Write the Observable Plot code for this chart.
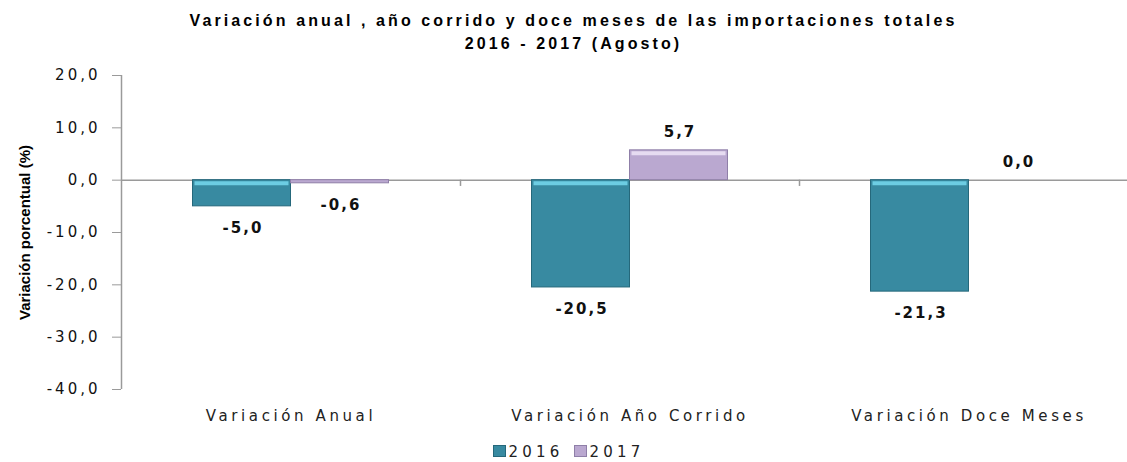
<!DOCTYPE html>
<html>
<head>
<meta charset="utf-8">
<script src="https://cdn.jsdelivr.net/npm/d3@7"></script>
<script src="https://cdn.jsdelivr.net/npm/@observablehq/plot@0.6"></script>
<style>
  body { margin: 0; background: #fff; width: 1127px; height: 462px; overflow: hidden; font-family: "DejaVu Sans", sans-serif; }
  #title { position: absolute; left: 0; top: 9px; width: 1127px; padding-left: 20px; box-sizing: border-box; text-align: center;
    font-family: "Liberation Sans", Arial, sans-serif; font-weight: bold; font-size: 16px; line-height: 23px; letter-spacing: 3.1px; color: #000; }
  #chart { position: absolute; left: 0; top: 60px; }
  #legend { position: absolute; left: 0; top: 443px; width: 1127px; padding-left: 10px; box-sizing: border-box; text-align: center;
    font-family: "DejaVu Sans", sans-serif; font-size: 15px; letter-spacing: 4.2px; color: #222; }
  #legend span.sw { display: inline-block; width: 11px; height: 10px; margin-right: 3px; vertical-align: 0px; }
  #legend span.item { margin: 0 5px; }
  #chart g[aria-label="y-axis tick label"] text { letter-spacing: 3px; }
  #chart g[aria-label="x-axis tick label"] text { letter-spacing: 3.6px; }
</style>
</head>
<body>
<div id="title">Variación anual , año corrido y doce meses de las importaciones totales<br>2016 - 2017 (Agosto)</div>
<div id="chart"></div>
<div id="legend"></div>
<script>
const categories = ["Variación Anual", "Variación Año Corrido", "Variación Doce Meses"];
const series = ["2016", "2017"];
const values2016 = [-5.0, -20.5, -21.3];
const values2017 = [-0.6, 5.7, 0.0];
const yTicks = [20, 10, 0, -10, -20, -30, -40];
const colors = {"2016": "#388aa1", "2017": "#baa8d0"};
const strokes = {"2016": "#25687b", "2017": "#8f7fa8"};
const rims = {"2016": "#6ccde3", "2017": "#e6dbf1"};
const yLabel = "Variación porcentual (%)";

const data = [];
categories.forEach((c, i) => {
  data.push({category: c, year: "2016", value: values2016[i]});
  data.push({category: c, year: "2017", value: values2017[i]});
});

const fmt = v => d3.format(".1f")(v).replace(".", ",").replace("−", "-");

const xRange = [121, 1138];
const bandW = (xRange[1] - xRange[0]) / categories.length;
const barW = 98;
const outer = (bandW - 2 * barW) / 2;

const marks = [];
series.forEach((s, k) => {
  const d = data.filter(r => r.year === s);
  const iL = k === 0 ? outer : outer + barW;
  const iR = k === 0 ? outer + barW : outer;
  marks.push(Plot.barY(d, {
    x: "category", y: "value",
    fill: colors[s], stroke: strokes[s], strokeWidth: 1,
    insetLeft: iL, insetRight: iR
  }));
  marks.push(Plot.tickY(d.filter(r => Math.abs(r.value) > 1), {
    x: "category", y: r => Math.max(0, r.value),
    stroke: rims[s], strokeWidth: 4, dy: 3,
    insetLeft: iL + 2, insetRight: iR + 2
  }));
  marks.push(Plot.text(d.filter(r => r.value < 0), {
    x: "category", y: "value", text: r => fmt(r.value),
    dx: (k === 0 ? -1 : 1) * barW / 2 + 1, dy: 22,
    fontWeight: "bold", fontSize: 15, fill: "#111"
  }));
  marks.push(Plot.text(d.filter(r => r.value >= 0), {
    x: "category", y: "value", text: r => fmt(r.value),
    dx: (k === 0 ? -1 : 1) * barW / 2 + 1, dy: -18,
    fontWeight: "bold", fontSize: 15, fill: "#111"
  }));
});

const plot = Plot.plot({
  width: 1127,
  height: 375,
  marginTop: 15,
  marginBottom: 46,
  marginLeft: 121,
  marginRight: 0,
  style: {fontFamily: "DejaVu Sans, sans-serif", background: "transparent"},
  x: {domain: categories, range: xRange, padding: 0, label: null},
  y: {domain: [-40, 20], ticks: yTicks, label: null},
  marks: [
    Plot.ruleY([0], {stroke: "#9a9a9a", strokeWidth: 1.5}),
    Plot.ruleX([categories[0]], {x: d => d, dx: -bandW / 2, y1: -40, y2: 20, stroke: "#9a9a9a", strokeWidth: 1.5}),
    Plot.axisY({ticks: yTicks, tickFormat: fmt, tickSize: 9, tickPadding: 12, stroke: "#9a9a9a",
      fontSize: 15, fill: "#111", label: null}),
    Plot.ruleX(categories.slice(1), {x: d => d, dx: -bandW / 2, y1: 0, y2: -1.2, stroke: "#9a9a9a", strokeWidth: 1.5}),
    Plot.axisX({tickSize: 0, tickPadding: 21, fontSize: 15, fill: "#222", label: null}),
    ...marks,
    Plot.text([yLabel], {frameAnchor: "left", dx: -96, rotate: -90, textAnchor: "middle",
      fontFamily: "Liberation Sans Narrow, Liberation Sans, sans-serif", fontWeight: "bold", fontSize: 15, fill: "#000"})
  ]
});
document.getElementById("chart").appendChild(plot);

d3.select(plot).selectAll('g[aria-label="text"] text').each(function() {
  const t = d3.select(this);
  t.style("letter-spacing", t.text() === yLabel ? "0px" : "2px");
});

const legend = document.getElementById("legend");
series.forEach(s => {
  const item = document.createElement("span");
  item.className = "item";
  const sw = document.createElement("span");
  sw.className = "sw";
  sw.style.background = colors[s];
  sw.style.border = "1px solid " + strokes[s];
  item.appendChild(sw);
  item.appendChild(document.createTextNode(s));
  legend.appendChild(item);
});
</script>
</body>
</html>
